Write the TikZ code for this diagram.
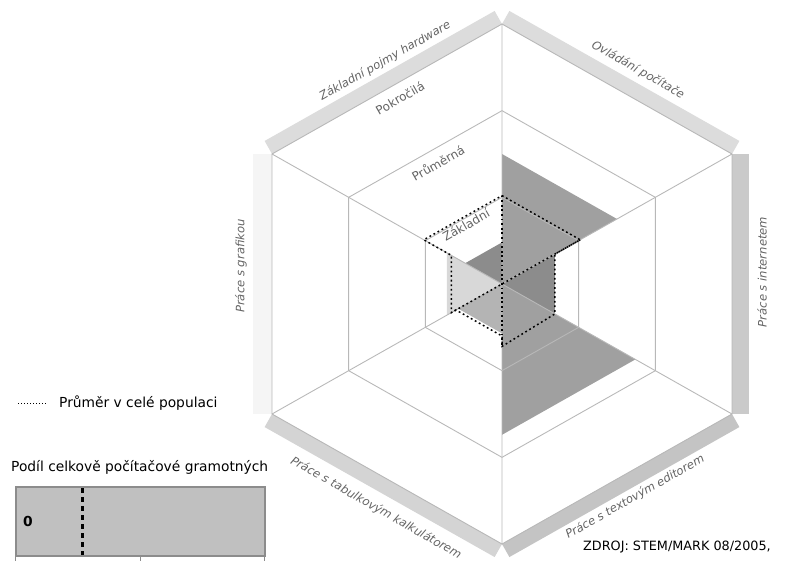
\documentclass[tikz,border=0pt]{standalone}
\usepackage{fontspec}
\setmainfont{DejaVu Sans}
\definecolor{GridGrey} {RGB}{184,184,184}
\definecolor{FillMid}  {RGB}{160,160,160}
\definecolor{FillDark} {RGB}{140,140,140}
\definecolor{FillSoft} {RGB}{180,180,180}
\definecolor{FillLight}{RGB}{216,216,216}
\definecolor{BarTop}   {RGB}{220,220,220}
\definecolor{BarRight} {RGB}{202,202,202}
\definecolor{BarLow}   {RGB}{196,196,196}
\definecolor{BarSoft}  {RGB}{212,212,212}
\definecolor{BarPale}  {RGB}{245,245,245}
\definecolor{LabelGrey}{RGB}{100,100,100}
\definecolor{BoxFill}  {RGB}{192,192,192}
\definecolor{BoxEdge}  {RGB}{140,140,140}
\usetikzlibrary{calc,positioning}

\begin{document}
\begin{tikzpicture}[x=1pt,y=-1pt,
  grid/.style={draw=GridGrey,line width=0.9pt},
  avg/.style={black,line width=1.5pt,dash pattern=on 1.8pt off 2.8pt},
  axlab/.style={text=LabelGrey,inner sep=1pt,
                font=\fontsize{11.6}{13}\selectfont\itshape},
  ringlab/.style={text=LabelGrey,inner sep=1pt,
                  font=\fontsize{12}{14}\selectfont},
  legtext/.style={inner sep=1pt,font=\fontsize{13.8}{16}\selectfont}]
  \useasboundingbox (0,0) rectangle (791,570);
  % hexagon corners
  \coordinate (c)  at (502,284);
  \coordinate (t)  at (502,24);
  \coordinate (ur) at (732,154);
  \coordinate (lr) at (732,414);
  \coordinate (b)  at (502,544);
  \coordinate (ll) at (272,414);
  \coordinate (ul) at (272,154);
  % rim bars
  \foreach \p/\q/\col/\w in {ul/t/BarTop/15,t/ur/BarTop/15,ur/lr/BarRight/17,
                             lr/b/BarLow/15,b/ll/BarSoft/15,ll/ul/BarPale/19}
    \fill[\col] (\p) -- (\q) -- ($(\q)!\w pt!-90:(\p)$)
                -- ($(\p)!\w pt!90:(\q)$) -- cycle;
  % sectors
  \fill[FillDark]  (c) -- ($(c)!.16!(ul)$) -- ($(c)!.16!(t)$)  -- cycle;
  \fill[FillMid]   (c) -- ($(c)!.50!(t)$)  -- ($(c)!.50!(ur)$) -- cycle;
  \fill[FillDark]  (c) -- ($(c)!.23!(ur)$) -- ($(c)!.23!(lr)$) -- cycle;
  \fill[FillMid]   (c) -- ($(c)!.58!(lr)$) -- ($(c)!.58!(b)$)  -- cycle;
  \fill[FillSoft]  (c) -- ($(c)!.19!(b)$)  -- ($(c)!.19!(ll)$) -- cycle;
  \fill[FillLight] (c) -- ($(c)!.24!(ll)$) -- ($(c)!.24!(ul)$) -- cycle;
  % rings and spokes
  \foreach \f in {0.3333,0.6667,1}
    \draw[grid] ($(c)!\f!(t)$) -- ($(c)!\f!(ur)$) -- ($(c)!\f!(lr)$)
      -- ($(c)!\f!(b)$) -- ($(c)!\f!(ll)$) -- ($(c)!\f!(ul)$) -- cycle;
  \draw[grid] (t) -- (b) (ul) -- (lr) (ur) -- (ll);
  % population average
  \draw[avg] ($(c)!.34!(t)$) -- ($(c)!.34!(ur)$) -- ($(c)!.23!(ur)$)
    -- ($(c)!.23!(lr)$) -- ($(c)!.24!(b)$) -- ($(c)!.2!(b)$)
    -- ($(c)!.2!(ll)$) -- ($(c)!.22!(ll)$) -- ($(c)!.22!(ul)$)
    -- ($(c)!.34!(ul)$) -- cycle;
  \draw[avg] ($(c)!.34!(t)$) -- ($(c)!.24!(b)$);
  \draw[avg] ($(c)!.34!(ur)$) -- ($(c)!.22!(ll)$);
  % labels
  \node[axlab,rotate=29.6]  (hw)   at (385,61)  {Základní pojmy hardware};
  \node[axlab,rotate=-29.6] (ovl)  at (638,70)  {Ovládání počítače};
  \node[axlab,rotate=90]    (inet) at (762,272) {Práce s internetem};
  \node[axlab,rotate=29.6]  (txt)  at (635,497) {Práce s textovým editorem};
  \node[axlab,rotate=-29.6] (tab)  at (376,508) {Práce s tabulkovým kalkulátorem};
  \node[axlab,rotate=90]    (graf) at (241,266) {Práce s grafikou};
  \node[ringlab,rotate=29.6] (adv)  at (400,98)  {Pokročilá};
  \node[ringlab,rotate=29.6] (mid)  at (438,163) {Průměrná};
  \node[ringlab,rotate=29.6] (base) at (466,225) {Základní};
  % legend
  \coordinate (avgA) at (18,403);
  \coordinate (avgB) at (46,403);
  \draw[black,line width=1pt,dash pattern=on 1pt off 2pt] (avgA) -- (avgB);
  \node[legtext,anchor=west] (avgtxt) at (58,403) {Průměr v celé populaci};
  \node[legtext,anchor=west] (podil) at (10,467)
       {Podíl celkově počítačové gramotných};
  \node[draw=BoxEdge,fill=BoxFill,line width=1.5pt,inner sep=0pt,
        minimum width=249pt,minimum height=69pt,anchor=north west]
       (share) at (15,486) {};
  \node[legtext,font=\fontsize{13.8}{16}\selectfont\bfseries,anchor=west]
       (zero) at (22,521) {0};
  \coordinate (dashA) at (82,488);
  \coordinate (dashB) at (82,555);
  \draw[black,line width=3pt,dash pattern=on 5pt off 4pt] (dashA) -- (dashB);
  \foreach \x in {15,140,264}
    \draw[BoxEdge,line width=1pt] (\x,555) -- (\x,561);
  \node[legtext,font=\fontsize{12.8}{15}\selectfont,anchor=west]
       (src) at (582,547) {ZDROJ: STEM/MARK 08/2005,};
\end{tikzpicture}
\end{document}
